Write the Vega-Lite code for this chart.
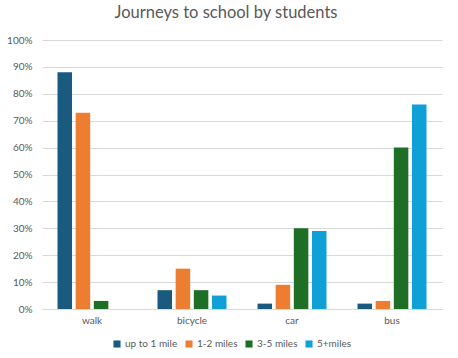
{
  "$schema": "https://vega.github.io/schema/vega-lite/v6.json",
  "width": 400,
  "height": 269,
  "autosize": "none",
  "padding": {"left": 42, "top": 40, "right": 16, "bottom": 49},
  "background": "white",
  "title": {
    "text": "Journeys to school by students",
    "font": "Lato, sans-serif",
    "fontSize": 16.5,
    "fontWeight": "normal",
    "color": "#595959",
    "anchor": "middle",
    "dx": -16,
    "offset": 14
  },
  "data": {
    "values": [
      {"mode": "walk", "distance": "up to 1 mile", "pct": 0.88},
      {"mode": "walk", "distance": "1-2 miles", "pct": 0.73},
      {"mode": "walk", "distance": "3-5 miles", "pct": 0.03},
      {"mode": "walk", "distance": "5+miles", "pct": 0.0},
      {"mode": "bicycle", "distance": "up to 1 mile", "pct": 0.07},
      {"mode": "bicycle", "distance": "1-2 miles", "pct": 0.15},
      {"mode": "bicycle", "distance": "3-5 miles", "pct": 0.07},
      {"mode": "bicycle", "distance": "5+miles", "pct": 0.05},
      {"mode": "car", "distance": "up to 1 mile", "pct": 0.02},
      {"mode": "car", "distance": "1-2 miles", "pct": 0.09},
      {"mode": "car", "distance": "3-5 miles", "pct": 0.30},
      {"mode": "car", "distance": "5+miles", "pct": 0.29},
      {"mode": "bus", "distance": "up to 1 mile", "pct": 0.02},
      {"mode": "bus", "distance": "1-2 miles", "pct": 0.03},
      {"mode": "bus", "distance": "3-5 miles", "pct": 0.60},
      {"mode": "bus", "distance": "5+miles", "pct": 0.76}
    ]
  },
  "mark": {"type": "bar"},
  "encoding": {
    "x": {
      "field": "mode",
      "type": "nominal",
      "sort": ["walk", "bicycle", "car", "bus"],
      "scale": {"paddingInner": 0.31, "paddingOuter": 0.155},
      "axis": {
        "title": null,
        "labelAngle": 0,
        "ticks": false,
        "domain": true,
        "domainColor": "#d9d9d9",
        "labelColor": "#595959",
        "labelFont": "Lato, sans-serif",
        "labelFontSize": 10,
        "labelPadding": 6
      }
    },
    "xOffset": {
      "field": "distance",
      "type": "nominal",
      "sort": ["up to 1 mile", "1-2 miles", "3-5 miles", "5+miles"],
      "scale": {"paddingInner": 0.2}
    },
    "y": {
      "field": "pct",
      "type": "quantitative",
      "scale": {"domain": [0, 1], "nice": false},
      "axis": {
        "title": null,
        "format": ".0%",
        "values": [0, 0.1, 0.2, 0.3, 0.4, 0.5, 0.6, 0.7, 0.8, 0.9, 1],
        "labelOverlap": false,
        "domain": false,
        "ticks": false,
        "gridColor": "#d9d9d9",
        "labelColor": "#595959",
        "labelFont": "Lato, sans-serif",
        "labelFontSize": 10,
        "labelPadding": 10
      }
    },
    "color": {
      "field": "distance",
      "type": "nominal",
      "sort": ["up to 1 mile", "1-2 miles", "3-5 miles", "5+miles"],
      "scale": {
        "domain": ["up to 1 mile", "1-2 miles", "3-5 miles", "5+miles"],
        "range": ["#1a5a7e", "#ed7d31", "#1e6f25", "#0fa0d8"]
      },
      "legend": {
        "title": null,
        "orient": "none",
        "direction": "horizontal",
        "legendX": 70,
        "legendY": 299,
        "symbolType": "square",
        "symbolSize": 50,
        "symbolStrokeWidth": 0,
        "labelColor": "#595959",
        "labelFont": "Lato, sans-serif",
        "labelFontSize": 10,
        "columnPadding": 6,
        "labelOffset": 3
      }
    }
  },
  "config": {"view": {"stroke": null}}
}
